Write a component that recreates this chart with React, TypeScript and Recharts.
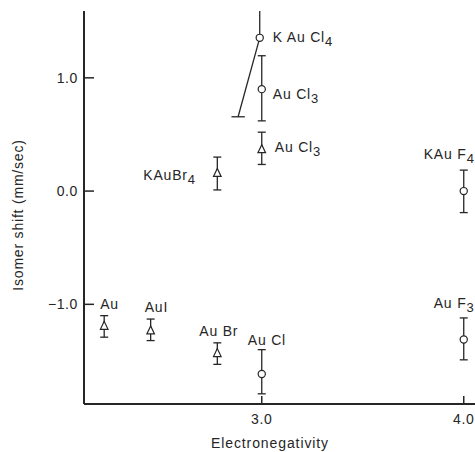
import React from 'react';
import { ScatterChart, Scatter, XAxis, YAxis, ErrorBar } from 'recharts';

// open triangles
const triNames = ['Au', 'AuI', 'Au Br', 'KAuBr4', 'Au Cl3'];
const triX = [2.22, 2.45, 2.78, 2.78, 3.0];
const triY = [-1.19, -1.23, -1.43, 0.16, 0.37];
const triLow = [-1.29, -1.32, -1.53, 0.01, 0.235];
const triHigh = [-1.1, -1.13, -1.34, 0.3, 0.52];

// open circles (KAuCl4 has its own drawn error lines below)
const circNames = ['Au Cl', 'Au F3', 'KAu F4', 'Au Cl3', 'K Au Cl4'];
const circX = [3.0, 4.0, 4.0, 3.0, 2.99];
const circY = [-1.615, -1.31, 0.0, 0.9, 1.353];
const circLow = [-1.79, -1.49, -0.19, 0.62, null];
const circHigh = [-1.4, -1.12, 0.185, 1.195, null];

// KAuCl4 error lines: straight up (off the top) and slanted down with a cap
const kauUpX = [2.99, 2.99];
const kauUpY = [1.353, 1.7];
const kauSlantX = [2.99, 2.883];
const kauSlantY = [1.353, 0.656];
const kauCapX = [2.85, 2.916];
const kauCapY = [0.656, 0.656];

const xTicks = [3.0, 4.0];
const yTicks = [-1.0, 0.0, 1.0];

// label placement relative to marker centre, px
const labelPos: Record<string, [number, number]> = {
  Au: [-4, -17],
  AuI: [-6, -18],
  'Au Br': [-18, -17],
  KAuBr4: [-74, 7],
  'Au Cl3': [13, 3],
  'Au Cl': [-14, -29],
  'Au F3': [-30, -31],
  'KAu F4': [-40, -32],
  'Au Cl3 ': [11, 10],
  'K Au Cl4': [13, 4],
};

const ink = '#262626';
const font = '"Liberation Sans", Arial, sans-serif';

const build = (names: string[], xs: number[], ys: number[], lo: (number | null)[], hi: (number | null)[], key: string) =>
  names.map((n, i) => ({
    name: n,
    key: key + n,
    x: xs[i],
    y: ys[i],
    err: lo[i] == null ? undefined : [ys[i] - (lo[i] as number), (hi[i] as number) - ys[i]],
  }));

const triData = build(triNames, triX, triY, triLow, triHigh, 't');
const circData = build(circNames, circX, circY, circLow, circHigh, 'c');
const pairs = (xs: number[], ys: number[]) => xs.map((x, i) => ({ x, y: ys[i] }));

function ChemLabel({ x, y, text }: { x: number; y: number; text: string }) {
  const m = text.match(/^(.*?)(\d)?$/) || [text, text, ''];
  return (
    <text x={x} y={y} fill={ink} fontSize={14} fontFamily={font} style={{ letterSpacing: 0.8 }}>
      {m[1]}
      {m[2] ? (
        <tspan dy={4} fontSize={13}>
          {m[2]}
        </tspan>
      ) : null}
    </text>
  );
}

const labelFor = (p: any) => {
  const key = p.key && p.key.startsWith('c') && p.name === 'Au Cl3' ? 'Au Cl3 ' : p.name;
  return labelPos[key] || [8, 4];
};

const Triangle = (props: any) => {
  const { cx, cy, payload } = props;
  const [dx, dy] = labelFor(payload);
  return (
    <g>
      <polygon
        points={`${cx},${cy - 4.5} ${cx - 3.8},${cy + 3.5} ${cx + 3.8},${cy + 3.5}`}
        fill="#fff"
        stroke={ink}
        strokeWidth={1.2}
      />
      <ChemLabel x={cx + dx} y={cy + dy} text={payload.name} />
    </g>
  );
};

const Circle = (props: any) => {
  const { cx, cy, payload } = props;
  const [dx, dy] = labelFor(payload);
  return (
    <g>
      <circle cx={cx} cy={cy} r={3.6} fill="#fff" stroke={ink} strokeWidth={1.2} />
      <ChemLabel x={cx + dx} y={cy + dy} text={payload.name} />
    </g>
  );
};

const NoDot = () => <g />;

// axis titles sit at fixed spots in the 520x452 chart
const YTitle = () => {
  const cx = 18;
  const cy = 215;
  return (
    <text
      x={cx}
      y={cy}
      transform={`rotate(-90 ${cx} ${cy})`}
      textAnchor="middle"
      dominantBaseline="central"
      fill={ink}
      fontSize={14}
      fontFamily={font}
      style={{ letterSpacing: 0.8 }}
    >
      Isomer shift (mm/sec)
    </text>
  );
};

const XTitle = () => (
  <text x={270} y={448} textAnchor="middle" fill={ink} fontSize={14} fontFamily={font} style={{ letterSpacing: 0.9 }}>
    Electronegativity
  </text>
);

const fmt = (v: number) => v.toFixed(1).replace('-', '\u2212');
const tickStyle = { fill: ink, fontSize: 14, fontFamily: font, letterSpacing: 0.6 };
const axisStroke = { stroke: ink, strokeWidth: 2 };
const tickStroke = { stroke: ink, strokeWidth: 1.5 };
const lineStyle = { stroke: ink, strokeWidth: 1.3 };

export default function App() {
  return (
    <div style={{ position: 'fixed', left: 0, top: 0, width: 475, height: 452, overflow: 'hidden', background: '#fff' }}>
      <ScatterChart width={520} height={452} margin={{ top: 11, right: 30, bottom: 18, left: 24 }}>
        <XAxis
          dataKey="x"
          type="number"
          domain={[2.12, 4.13]}
          ticks={xTicks}
          tickFormatter={fmt}
          height={30}
          tickSize={-8}
          tickMargin={18}
          tick={tickStyle}
          axisLine={axisStroke}
          tickLine={tickStroke}
          allowDataOverflow
          label={{ content: XTitle }}
        />
        <XAxis
          xAxisId="top"
          orientation="top"
          type="number"
          domain={[2.12, 4.13]}
          ticks={xTicks}
          height={0}
          tickSize={-8}
          tick={false}
          axisLine={axisStroke}
          tickLine={tickStroke}
          allowDataOverflow
        />
        <YAxis
          dataKey="y"
          type="number"
          domain={[-1.88, 1.59]}
          ticks={yTicks}
          tickFormatter={fmt}
          width={60}
          tickSize={-10}
          tickMargin={16}
          tick={tickStyle}
          axisLine={axisStroke}
          tickLine={tickStroke}
          allowDataOverflow
          label={{ content: YTitle }}
        />
        <Scatter data={pairs(kauUpX, kauUpY)} line={lineStyle} shape={NoDot} isAnimationActive={false} />
        <Scatter data={pairs(kauSlantX, kauSlantY)} line={lineStyle} shape={NoDot} isAnimationActive={false} />
        <Scatter data={pairs(kauCapX, kauCapY)} line={lineStyle} shape={NoDot} isAnimationActive={false} />
        <Scatter data={triData} shape={Triangle} isAnimationActive={false}>
          <ErrorBar dataKey="err" direction="y" width={4} stroke={ink} strokeWidth={1.3} isAnimationActive={false} />
        </Scatter>
        <Scatter data={circData} shape={Circle} isAnimationActive={false}>
          <ErrorBar dataKey="err" direction="y" width={4} stroke={ink} strokeWidth={1.3} isAnimationActive={false} />
        </Scatter>
      </ScatterChart>
    </div>
  );
}
